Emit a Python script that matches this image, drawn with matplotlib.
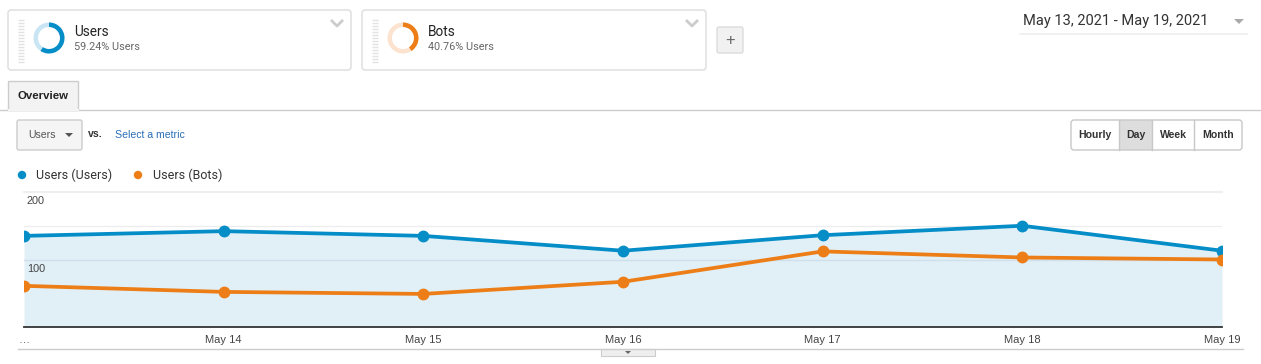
import matplotlib
matplotlib.use("Agg")
import matplotlib.pyplot as plt
from matplotlib.patches import FancyBboxPatch, Rectangle, Wedge, Circle, Polygon
import matplotlib.transforms as mtransforms

# data
day_labels = ["…", "May 14", "May 15", "May 16", "May 17", "May 18", "May 19"]
users_users = [135, 142, 135, 113, 136, 150, 113]
users_bots = [61, 52, 49, 67, 112, 103, 100]
y_ticks = [100, 200]
segments = ["Users", "Bots"]
segment_share = [59.24, 40.76]
date_range = "May 13, 2021 - May 19, 2021"
periods = ["Hourly", "Day", "Week", "Month"]

BLUE = "#058dc7"
BLUE_LIGHT = "#c9e5f3"
ORANGE = "#ed7e17"
ORANGE_LIGHT = "#fbe3cf"
FILL = "#e1f0f7"

W, H = 1261, 364
fig = plt.figure(figsize=(W / 100, H / 100), dpi=100)
fig.patch.set_facecolor("white")

# page layer in pixel coordinates
ui = fig.add_axes([0, 0, 1, 1])
ui.set_xlim(0, W)
ui.set_ylim(H, 0)
ui.axis("off")

UI_FONT = ["Roboto", "DejaVu Sans"]
ARIAL = ["Liberation Sans", "DejaVu Sans"]


def card(x0, x1, name, share, col, col_light):
    ui.add_patch(FancyBboxPatch((x0, 10), x1 - x0, 60, boxstyle="round,pad=0,rounding_size=3",
                                fc="white", ec="#dcdcdc", lw=1))
    # drag handle
    ui.hlines([20 + 3 * i for i in range(15)], x0 + 10, x0 + 16, color="#e2e2e2", lw=1)
    # donut
    cx, cy = x0 + 41, 38
    ui.add_patch(Wedge((cx, cy), 15.5, 0, 360, width=4.5, fc=col_light, ec="none"))
    ui.add_patch(Wedge((cx, cy), 15.5, -90, -90 + 360 * share / 100, width=4.5, fc=col, ec="none"))
    ui.text(x0 + 66, 32, name, fontsize=9.8, color="#222", va="center", family=UI_FONT)
    ui.text(x0 + 66, 47, f"{share:.2f}% Users", fontsize=7.8, color="#666", va="center", family=UI_FONT)
    # chevron
    ui.plot([x1 - 20, x1 - 14, x1 - 8], [20, 26, 20], color="#cccccc", lw=2, solid_capstyle="butt")


card(8, 351, segments[0], segment_share[0], BLUE, BLUE_LIGHT)
card(362, 706, segments[1], segment_share[1], ORANGE, ORANGE_LIGHT)

# add segment button
ui.add_patch(FancyBboxPatch((717, 27), 26, 26, boxstyle="round,pad=0,rounding_size=2",
                            fc="#f1f1f1", ec="#dcdcdc", lw=1))
ui.text(730, 40, "+", fontsize=12, color="#666", ha="center", va="center", family=ARIAL)

# date range
ui.text(1023, 21, date_range, fontsize=10.5, color="#333", va="center", family=UI_FONT)
ui.add_patch(Polygon([[1234, 19], [1244, 19], [1239, 24]], fc="#aaaaaa", ec="none"))
ui.plot([1020, 1247], [34, 34], color="#eeeeee", lw=1.2)

# tab
ui.plot([0, W], [109.5, 109.5], color="#cccccc", lw=1)
ui.add_patch(Rectangle((8, 81), 70, 29, fc="#f3f3f3", ec="#cccccc", lw=1))
ui.plot([8.5, 77.5], [109.5, 109.5], color="#f3f3f3", lw=1.5)
ui.text(43, 96, "Overview", fontsize=8.2, fontweight="bold", color="#222", ha="center", va="center",
        family=ARIAL)

# metric dropdown
ui.add_patch(FancyBboxPatch((17, 120), 65, 30, boxstyle="round,pad=0,rounding_size=2",
                            fc="#f5f5f5", ec="#cccccc", lw=1))
ui.text(28, 135, "Users", fontsize=7.6, color="#555", va="center", family=ARIAL)
ui.add_patch(Polygon([[65, 133], [73, 133], [69, 137]], fc="#555", ec="none"))
ui.text(88, 134, "vs.", fontsize=7.6, fontweight="bold", color="#333", va="center", family=ARIAL)
ui.text(115, 135, "Select a metric", fontsize=7.6, color="#2a6eb8", va="center", family=ARIAL)

# period buttons
edges = [1071, 1119, 1152, 1194, 1242]
ui.add_patch(Rectangle((edges[1], 120), edges[2] - edges[1], 30, fc="#dddddd", ec="none"))
ui.add_patch(FancyBboxPatch((edges[0], 120), edges[-1] - edges[0], 30,
                            boxstyle="round,pad=0,rounding_size=3", fc="none", ec="#c8c8c8", lw=1))
for i, p in enumerate(periods):
    if i > 0:
        ui.plot([edges[i], edges[i]], [120, 150], color="#c8c8c8", lw=1)
    ui.text((edges[i] + edges[i + 1]) / 2, 135, p, fontsize=7.6, fontweight="bold", color="#333",
            ha="center", va="center", family=ARIAL)

# legend
ui.add_patch(Circle((22, 175), 4.2, fc=BLUE, ec="none"))
ui.text(36, 175, "Users (Users)", fontsize=9, color="#333", va="center", family=UI_FONT)
ui.add_patch(Circle((138, 175), 4.2, fc=ORANGE, ec="none"))
ui.text(153, 175, "Users (Bots)", fontsize=9, color="#333", va="center", family=UI_FONT)

# bottom line and slider tab
ui.plot([18, 1243], [348.5, 348.5], color="#cccccc", lw=1)
ui.add_patch(Rectangle((601, 349), 54, 7, fc="#eeeeee", ec="#cccccc", lw=0.8))
ui.add_patch(Polygon([[625, 351], [631, 351], [628, 354]], fc="#666", ec="none"))

# chart
x0, x1, y_top, y_bot = 24, 1222, 192, 327
ax = fig.add_axes([x0 / W, (H - y_bot) / H, (x1 - x0) / W, (y_bot - y_top) / H])
ax.set_xlim(0, len(day_labels) - 1)
ax.set_ylim(0, 200)
ax.patch.set_alpha(0)
for s in ["top", "left", "right"]:
    ax.spines[s].set_visible(False)
ax.spines["bottom"].set_color("#333333")
ax.spines["bottom"].set_linewidth(1.3)
ax.set_yticks([])

xs = list(range(len(day_labels)))
ax.fill_between(xs, users_users, 0, color=FILL, lw=0, zorder=1)
for v in [50, 150]:
    ax.axhline(v, color="#ececec", lw=0.8, zorder=0.5)
ax.axhline(200, color="#ececec", lw=1.2, zorder=0.5, clip_on=False)
ax.axhline(100, color="#cfe0ea", lw=1, zorder=1.5)

ax.plot(xs, users_users, color=BLUE, lw=2.7, marker="o", ms=7.5, zorder=3)
ax.plot(xs, users_bots, color=ORANGE, lw=2.7, marker="o", ms=7.5, zorder=3)

off = mtransforms.offset_copy(ax.get_yaxis_transform(), fig=fig, x=3, y=-4, units="dots")
for v in y_ticks:
    ax.text(0, v, str(v), transform=off, fontsize=7.8, color="#444", va="top", ha="left", family=ARIAL)

ax.set_xticks(xs)
ax.set_xticklabels(day_labels, fontsize=8, color="#444", family=ARIAL)
ax.tick_params(axis="x", length=0, pad=5.5)

fig.savefig("out.png", dpi=100, facecolor="white")
